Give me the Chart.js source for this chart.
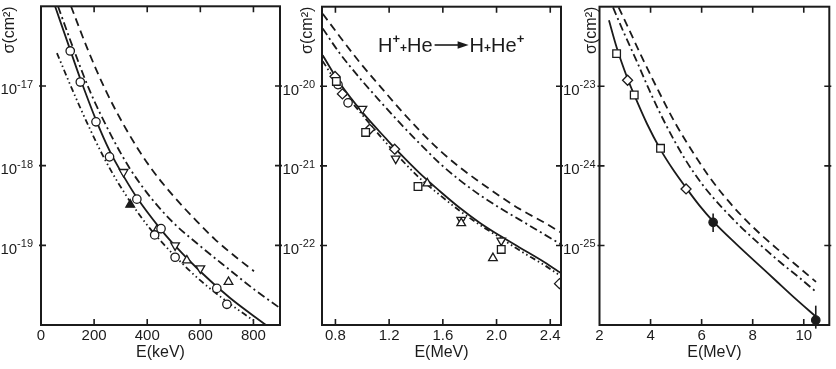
<!DOCTYPE html>
<html>
<head>
<meta charset="utf-8">
<script src="https://cdn.jsdelivr.net/npm/chart.js"></script>
<style>
body { margin: 0; background: #fff; }
#wrap { position: relative; width: 836px; height: 369px; }
canvas { position: absolute; left: 0; top: 0; }
</style>
</head>
<body>
<div id="wrap">
  <canvas id="c1" width="836" height="369"></canvas>
  <canvas id="c2" width="836" height="369"></canvas>
  <canvas id="c3" width="836" height="369"></canvas>
</div>
<script>
// panel 1, E in keV, sigma in cm2
const p1Solid = [[53, 1.0e-16], [109, 2.90e-17], [147, 1.26e-17], [207, 3.76e-18], [260, 1.50e-18], [312, 7.29e-19], [361, 3.98e-19], [448, 1.63e-19], [493, 1.09e-19], [599, 4.73e-20], [712, 2.18e-20], [847, 1.0e-20]];
const p1Dashed = [[113, 1.0e-16], [177, 2.82e-17], [241, 9.17e-18], [324, 2.74e-18], [410, 9.72e-19], [497, 4.22e-19], [587, 2.0e-19], [655, 1.19e-19], [730, 7.29e-20], [802, 4.73e-20]];
const p1DashDot = [[64, 1.0e-16], [124, 2.82e-17], [184, 8.66e-18], [267, 2.30e-18], [335, 9.17e-19], [410, 4.10e-19], [497, 1.94e-19], [587, 1.06e-19], [712, 4.87e-20], [806, 2.74e-20], [900, 1.63e-20]];
const p1DashDotDot = [[60, 2.59e-17], [120, 8.66e-18], [184, 2.90e-18], [237, 1.26e-18], [290, 6.13e-19], [346, 3.16e-19], [410, 1.63e-19], [505, 7.29e-20], [599, 3.65e-20], [697, 2.0e-20], [798, 1.15e-20]];
const p1Circles = [[110, 2.75e-17], [148, 1.12e-17], [207, 3.55e-18], [258, 1.29e-18], [361, 3.80e-19], [428, 1.35e-19], [452, 1.62e-19], [505, 7.08e-20], [662, 2.88e-20], [700, 1.82e-20]];
const p1Up = [[436, 1.55e-19], [549, 6.46e-20], [706, 3.47e-20]];
const p1UpFilled = [[336, 3.24e-19]];
const p1Down = [[311, 8.32e-19], [505, 1.00e-19], [600, 5.13e-20]];

// panel 2, E in MeV
const p2Dashed = [[0.705, 8.17e-20], [0.832, 4.23e-20], [0.981, 2.00e-20], [1.130, 1.01e-20], [1.278, 5.21e-21], [1.427, 2.78e-21], [1.576, 1.57e-21], [1.725, 9.62e-22], [1.874, 6.27e-22], [2.023, 4.19e-22], [2.171, 2.88e-22], [2.357, 1.93e-22], [2.48, 1.45e-22]];
const p2DashDot = [[0.705, 5.32e-20], [0.832, 2.60e-20], [0.981, 1.27e-20], [1.130, 6.56e-21], [1.278, 3.49e-21], [1.427, 1.91e-21], [1.576, 1.08e-21], [1.725, 6.62e-22], [1.874, 4.32e-22], [2.023, 2.97e-22], [2.171, 2.11e-22], [2.357, 1.37e-22], [2.48, 1.03e-22]];
const p2Solid = [[0.705, 2.45e-20], [0.832, 1.10e-20], [1.003, 4.66e-21], [1.182, 2.15e-21], [1.278, 1.44e-21], [1.427, 8.09e-22], [1.576, 4.83e-22], [1.725, 2.97e-22], [1.874, 1.93e-22], [2.023, 1.33e-22], [2.171, 9.44e-23], [2.357, 6.15e-23], [2.48, 4.49e-23]];
const p2DashDotDot = [[0.705, 2.07e-20], [0.832, 9.79e-21], [0.981, 4.79e-21], [1.130, 2.40e-21], [1.278, 1.27e-21], [1.427, 7.01e-22], [1.576, 4.32e-22], [1.725, 2.73e-22], [1.874, 1.82e-22], [2.023, 1.26e-22], [2.171, 8.67e-23], [2.357, 5.64e-23], [2.48, 4.11e-23]];
const p2Squares = [[0.807, 1.15e-20], [1.025, 2.63e-21], [1.415, 5.50e-22], [2.035, 8.91e-23]];
const p2Circles = [[0.819, 1.05e-20], [0.894, 6.19e-21]];
const p2Diamonds = [[0.797, 1.33e-20], [0.852, 8.02e-21], [1.055, 2.88e-21], [1.241, 1.62e-21], [2.469, 3.31e-23]];
const p2Up = [[1.484, 6.03e-22], [1.737, 1.91e-22], [1.973, 6.92e-23]];
const p2Down = [[1.001, 5.21e-21], [1.249, 1.23e-21], [1.737, 2.09e-22], [2.035, 1.15e-22]];

// panel 3, E in MeV
const p3Solid = [[2.37, 6.75e-23], [2.67, 3.10e-23], [3.09, 1.27e-23], [3.36, 7.78e-24], [3.86, 3.38e-24], [4.39, 1.60e-24], [4.88, 8.99e-25], [5.38, 5.36e-25], [5.91, 3.19e-25], [6.45, 2.01e-25], [7.36, 1.04e-25], [8.12, 6.18e-26], [8.88, 3.68e-26], [9.64, 2.19e-26], [10.48, 1.27e-26]];
const p3DashDot = [[2.53, 9.79e-23], [2.98, 4.51e-23], [3.44, 2.13e-23], [3.93, 9.25e-24], [4.58, 3.38e-24], [5.34, 1.23e-24], [6.03, 5.83e-25], [6.79, 3.01e-25], [7.55, 1.69e-25], [8.31, 1.01e-25], [9.07, 6.18e-26], [9.84, 3.90e-26], [10.48, 2.61e-26]];
const p3Dashed = [[2.75, 9.79e-23], [3.17, 5.06e-23], [3.66, 2.32e-23], [4.31, 8.73e-24], [4.96, 3.48e-24], [5.72, 1.38e-24], [6.29, 7.35e-25], [6.86, 4.26e-25], [7.55, 2.39e-25], [8.31, 1.38e-25], [9.15, 8.02e-26], [9.84, 5.20e-26], [10.48, 3.48e-26]];
const p3Squares = [[2.67, 2.57e-23], [3.36, 7.76e-24], [4.39, 1.66e-24]];
const p3Diamonds = [[3.10, 1.19e-23], [5.39, 5.13e-25]];
const p3Filled = [[6.45, 1.95e-25], [10.47, 1.15e-26]];
const p3Bar1 = [[6.45, 1.48e-25], [6.45, 2.51e-25]];
const p3Bar2 = [[10.47, 9.0e-27], [10.47, 1.75e-26]];

// ticks
const p1XTicks = [0, 200, 400, 600, 800];
const p2XTicks = [0.8, 1.2, 1.6, 2.0, 2.4];
const p3XTicks = [2, 4, 6, 8, 10];
const p1YExp = [-17, -18, -19];
const p2YExp = [-20, -21, -22];
const p3YExp = [-23, -24, -25];

const ink = '#1b1b1b';
const fontName = '"Liberation Sans", Arial, sans-serif';
Chart.defaults.font.family = fontName;
Chart.defaults.font.size = 15;
Chart.defaults.color = ink;

const xy = arr => arr.map(p => ({x: p[0], y: p[1]}));

const SOLID = [], DASH = [8, 5], DASHDOT = [8, 3.5, 2, 3.5], DASHDOTDOT = [6, 3, 1.5, 3, 1.5, 3];

function curve(data, dash) {
  return {data: xy(data), showLine: true, borderColor: ink, borderWidth: 1.8, borderDash: dash,
    pointRadius: 0, cubicInterpolationMode: 'monotone'};
}
function marks(data, style, fill, rot) {
  let r = 4.2;
  if (style === 'rect') r = 5.4;
  if (style === 'rectRot') r = 5;
  if (style === 'triangle') r = 5;
  return {data: xy(data), showLine: false, pointStyle: style, pointRadius: r,
    pointBorderColor: ink, pointBackgroundColor: fill ? ink : '#fff', pointBorderWidth: 1.3,
    pointRotation: rot || 0};
}
function bar(data) {
  return {data: xy(data), showLine: true, borderColor: ink, borderWidth: 1.6, pointRadius: 0, tension: 0, clip: false};
}

function drawReaction(ctx, x, base) {
  const put = (t, f, dy) => { ctx.font = f; ctx.fillText(t, x, base + dy); x += ctx.measureText(t).width; };
  const big = '20px ' + fontName, sup = 'bold 13px ' + fontName, mid = 'bold 12px ' + fontName;
  put('H', big, 0); put('+', sup, -9); put('+', mid, 0); put('He', big, 0);
  // arrow
  const y = base - 7;
  ctx.lineWidth = 1.6;
  ctx.beginPath(); ctx.moveTo(x + 2, y); ctx.lineTo(x + 27, y); ctx.stroke();
  ctx.beginPath(); ctx.moveTo(x + 36, y); ctx.lineTo(x + 25, y - 3.8); ctx.lineTo(x + 25, y + 3.8); ctx.closePath(); ctx.fill();
  x += 37;
  put('H', big, 0); put('+', mid, 0); put('He', big, 0); put('+', sup, -9);
}

const framePlugin = {
  id: 'frame',
  afterDraw(chart, args, opts) {
    const {ctx, chartArea: a, scales: {x, y}} = chart;
    ctx.save();
    ctx.strokeStyle = ink;
    ctx.fillStyle = ink;
    ctx.lineWidth = 2;
    ctx.strokeRect(a.left, a.top, a.right - a.left, a.bottom - a.top);
    ctx.lineWidth = 1.6;
    ctx.beginPath();
    opts.xTicks.forEach(v => {
      if (v <= x.min) return;
      const px = x.getPixelForValue(v);
      ctx.moveTo(px, a.bottom); ctx.lineTo(px, a.bottom - 6);
      ctx.moveTo(px, a.top); ctx.lineTo(px, a.top + 6);
    });
    opts.yExp.forEach(e => {
      const py = y.getPixelForValue(Math.pow(10, e));
      ctx.moveTo(a.left - 2, py); ctx.lineTo(a.left + 5, py);
      ctx.moveTo(a.right + 2, py); ctx.lineTo(a.right - 5, py);
    });
    ctx.stroke();
    // decade labels: 10 with raised exponent
    ctx.textAlign = 'left';
    ctx.textBaseline = 'alphabetic';
    opts.yExp.forEach(e => {
      const py = y.getPixelForValue(Math.pow(10, e));
      const sup = '-' + (-e);
      ctx.font = '11px ' + fontName;
      const ws = ctx.measureText(sup).width;
      ctx.font = '15px ' + fontName;
      const wb = ctx.measureText('10').width;
      const xr = a.left - opts.gap;
      ctx.fillText('10', xr - ws - wb, py + 8.5);
      ctx.font = '11px ' + fontName;
      ctx.fillText(sup, xr - ws, py + 2);
    });
    if (opts.reaction) drawReaction(ctx, 378, 52);
    ctx.restore();
  }
};

function panel(id, cfg) {
  return new Chart(document.getElementById(id), {
    type: 'scatter',
    data: {datasets: cfg.datasets},
    options: {
      responsive: false,
      animation: false,
      devicePixelRatio: 1,
      events: [],
      layout: {padding: {left: cfg.left - cfg.axisWidth, right: 836 - cfg.right, top: 5, bottom: 0}},
      plugins: {
        legend: {display: false},
        tooltip: {enabled: false},
        frame: {xTicks: cfg.xTicks, yExp: cfg.yExp, gap: cfg.gap, reaction: cfg.reaction}
      },
      scales: {
        x: {
          type: 'linear', min: cfg.xMin, max: cfg.xMax,
          afterFit: s => { s.height = 44; },
          afterBuildTicks: s => { s.ticks = cfg.xTicks.map(v => ({value: v})); },
          grid: {display: false, drawTicks: false},
          border: {display: false},
          ticks: {padding: 2, autoSkip: false, maxRotation: 0, callback: cfg.fmt},
          title: {display: true, text: cfg.xTitle, font: {size: 16}, padding: {top: 0, bottom: 7}}
        },
        y: {
          type: 'logarithmic', min: cfg.yMin, max: cfg.yMax,
          afterFit: s => { s.width = cfg.axisWidth; },
          grid: {display: false, drawTicks: false},
          border: {display: false},
          ticks: {display: false},
          title: {display: true, text: 'σ(cm²)', font: {size: 16}, align: 'end', padding: 0}
        }
      }
    },
    plugins: [framePlugin]
  });
}

panel('c1', {
  left: 41, right: 280, axisWidth: 41, gap: 8,
  xMin: 0, xMax: 900, yMin: 1e-20, yMax: 1e-16,
  xTicks: p1XTicks, yExp: p1YExp, xTitle: 'E(keV)', fmt: v => String(v),
  datasets: [
    marks(p1Circles, 'circle'),
    marks(p1Up, 'triangle'),
    marks(p1UpFilled, 'triangle', true),
    marks(p1Down, 'triangle', false, 180),
    curve(p1Solid, SOLID),
    curve(p1Dashed, DASH),
    curve(p1DashDot, DASHDOT),
    curve(p1DashDotDot, DASHDOTDOT)
  ]
});

panel('c2', {
  left: 322, right: 561, axisWidth: 24, gap: 7,
  xMin: 0.7, xMax: 2.48, yMin: 1e-23, yMax: 1e-19,
  xTicks: p2XTicks, yExp: p2YExp, xTitle: 'E(MeV)', fmt: v => v.toFixed(1), reaction: true,
  datasets: [
    marks(p2Squares, 'rect'),
    marks(p2Circles, 'circle'),
    marks(p2Diamonds, 'rectRot'),
    marks(p2Up, 'triangle'),
    marks(p2Down, 'triangle', false, 180),
    curve(p2Solid, SOLID),
    curve(p2Dashed, DASH),
    curve(p2DashDot, DASHDOT),
    curve(p2DashDotDot, DASHDOTDOT)
  ]
});

panel('c3', {
  left: 599.5, right: 835, axisWidth: 17.5, gap: 4,
  xMin: 2, xMax: 11, yMin: 1e-26, yMax: 1e-22,
  xTicks: p3XTicks, yExp: p3YExp, xTitle: 'E(MeV)', fmt: v => String(v),
  datasets: [
    marks(p3Squares, 'rect'),
    marks(p3Diamonds, 'rectRot'),
    marks(p3Filled, 'circle', true),
    bar(p3Bar1),
    bar(p3Bar2),
    curve(p3Solid, SOLID),
    curve(p3DashDot, DASHDOT),
    curve(p3Dashed, DASH)
  ]
});
</script>
</body>
</html>
